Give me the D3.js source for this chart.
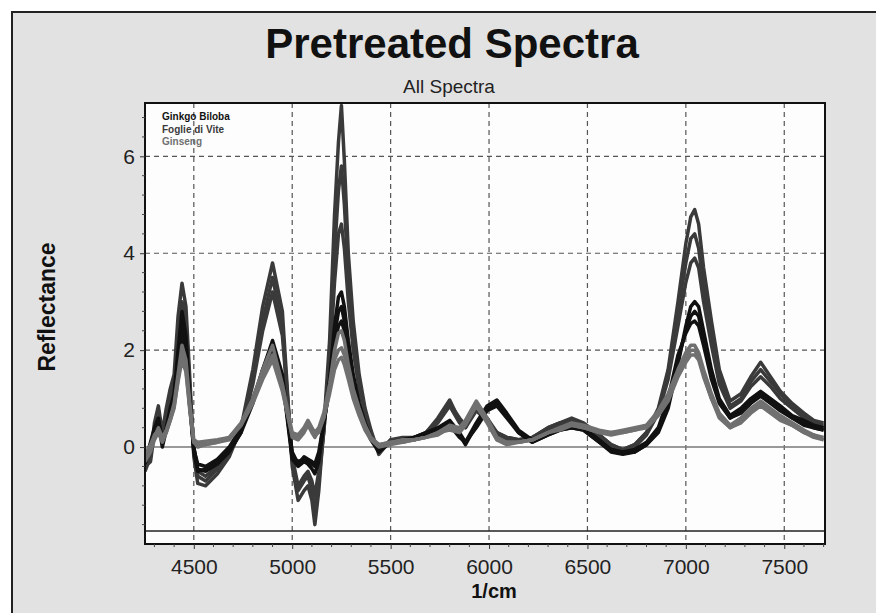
<!DOCTYPE html>
<html>
<head>
<meta charset="utf-8">
<script src="https://cdn.jsdelivr.net/npm/d3@7"></script>
<style>
  body { margin: 0; background: #fff; }
  svg { display: block; font-family: "Liberation Sans", Arial, sans-serif; }
</style>
</head>
<body>
<div id="chart"></div>
<script>
// wavenumbers (1/cm) the spectra are sampled at
const wavenumbers = [4252, 4280, 4300, 4320, 4340, 4360, 4380, 4400, 4420, 4440, 4460, 4480, 4500, 4520, 4560, 4620, 4680, 4740, 4800, 4850,
  4900, 4950, 5000, 5030, 5060, 5080, 5100, 5115, 5135, 5160, 5190, 5215, 5235, 5250, 5265, 5285, 5310, 5340, 5370, 5400,
  5440, 5500, 5560, 5620, 5680, 5740, 5800, 5850, 5880, 5935, 5990, 6040, 6090, 6150, 6220, 6300, 6360, 6420, 6480, 6560,
  6620, 6680, 6740, 6800, 6860, 6910, 6960, 7000, 7025, 7045, 7065, 7090, 7130, 7170, 7225, 7280, 7330, 7380, 7430, 7480,
  7540, 7600, 7650, 7700];

// Foglie di Vite spectra
const vite1 = [-0.5, -0.2, 0.5, 0.85, 0.3, 0.8, 1.2, 1.5, 2.7, 3.38, 2.9, 1.4, -0.2, -0.75, -0.8, -0.55, -0.2, 0.4, 1.6, 2.9,
  3.8, 2.8, -0.4, -1.1, -0.9, -0.8, -1.1, -1.6, -0.9, 0.4, 2.2, 4.8, 6.3, 7.05, 5.9, 4.0, 2.6, 1.5, 0.8, 0.35,
  -0.15, 0.15, 0.2, 0.2, 0.3, 0.6, 0.97, 0.55, 0.4, 0.85, 0.6, 0.3, 0.2, 0.15, 0.2, 0.4, 0.5, 0.6, 0.5, 0.25,
  0.05, -0.05, 0.05, 0.3, 0.8, 1.6, 3.0, 4.2, 4.75, 4.9, 4.6, 3.7, 2.6, 1.6, 0.95, 1.1, 1.45, 1.75, 1.45, 1.15,
  0.9, 0.7, 0.55, 0.5];
const vite2 = [-0.4, -0.3, 0.3, 0.6, 0.1, 0.6, 1.0, 1.3, 2.3, 3.0, 2.6, 1.2, -0.1, -0.6, -0.7, -0.45, -0.15, 0.35, 1.4, 2.6,
  3.5, 2.5, -0.3, -0.9, -0.7, -0.6, -0.9, -1.3, -0.7, 0.3, 1.9, 4.0, 5.3, 5.8, 5.0, 3.5, 2.3, 1.3, 0.7, 0.3,
  -0.1, 0.15, 0.15, 0.2, 0.3, 0.55, 0.9, 0.6, 0.45, 0.8, 0.55, 0.3, 0.2, 0.15, 0.2, 0.4, 0.5, 0.55, 0.45, 0.25,
  0.05, -0.05, 0.05, 0.3, 0.75, 1.5, 2.8, 3.8, 4.3, 4.4, 4.1, 3.3, 2.3, 1.45, 0.85, 1.0, 1.35, 1.6, 1.35, 1.1,
  0.85, 0.65, 0.5, 0.45];
const vite3 = [-0.3, -0.1, 0.2, 0.5, 0.2, 0.5, 0.9, 1.2, 2.0, 2.7, 2.3, 1.0, 0.0, -0.5, -0.6, -0.4, -0.1, 0.3, 1.3, 2.4,
  3.2, 2.3, -0.2, -0.8, -0.6, -0.5, -0.7, -1.0, -0.5, 0.3, 1.7, 3.4, 4.4, 4.6, 4.1, 3.0, 2.0, 1.2, 0.65, 0.25,
  -0.05, 0.1, 0.15, 0.2, 0.25, 0.5, 0.85, 0.5, 0.4, 0.75, 0.55, 0.25, 0.15, 0.1, 0.2, 0.35, 0.45, 0.55, 0.45, 0.2,
  0.0, -0.1, 0.0, 0.25, 0.7, 1.4, 2.5, 3.4, 3.8, 3.9, 3.7, 3.0, 2.1, 1.3, 0.8, 0.95, 1.25, 1.45, 1.25, 1.0,
  0.8, 0.6, 0.5, 0.4];

// Ginkgo Biloba spectra
const ginkgo1 = [-0.3, 0.1, 0.4, 0.6, 0.1, 0.4, 0.8, 1.1, 2.0, 2.8, 2.3, 1.0, 0.0, -0.45, -0.5, -0.35, -0.1, 0.3, 0.9, 1.6,
  2.2, 1.5, -0.2, -0.3, -0.25, -0.3, -0.35, -0.4, -0.2, 0.5, 1.4, 2.5, 3.1, 3.2, 2.9, 2.2, 1.5, 0.9, 0.5, 0.2,
  -0.1, 0.1, 0.15, 0.2, 0.3, 0.4, 0.55, 0.3, 0.1, 0.5, 0.85, 0.97, 0.7, 0.35, 0.15, 0.3, 0.4, 0.45, 0.4, 0.15,
  -0.05, -0.12, -0.1, 0.05, 0.3, 0.8, 1.7, 2.5, 2.9, 3.0, 2.9, 2.4, 1.6, 1.0, 0.65, 0.8, 1.0, 1.15, 1.0, 0.85,
  0.65, 0.55, 0.45, 0.4];
const ginkgo2 = [-0.35, 0.0, 0.3, 0.5, 0.0, 0.35, 0.7, 1.0, 1.8, 2.5, 2.1, 0.9, -0.1, -0.5, -0.45, -0.3, -0.05, 0.35, 0.95, 1.6,
  2.1, 1.4, -0.25, -0.4, -0.3, -0.35, -0.45, -0.55, -0.3, 0.45, 1.3, 2.3, 2.8, 2.9, 2.6, 2.0, 1.4, 0.85, 0.45, 0.15,
  -0.1, 0.1, 0.1, 0.2, 0.25, 0.35, 0.5, 0.25, 0.05, 0.45, 0.8, 0.9, 0.65, 0.3, 0.1, 0.25, 0.35, 0.4, 0.35, 0.1,
  -0.1, -0.15, -0.1, 0.05, 0.35, 0.9, 1.8, 2.4, 2.7, 2.8, 2.7, 2.2, 1.5, 0.95, 0.6, 0.75, 0.95, 1.1, 0.95, 0.8,
  0.6, 0.5, 0.4, 0.35];
const ginkgo3 = [-0.25, 0.05, 0.35, 0.55, 0.15, 0.35, 0.65, 0.95, 1.7, 2.3, 1.9, 0.8, -0.05, -0.35, -0.4, -0.25, 0.0, 0.4, 1.0, 1.55,
  2.0, 1.4, -0.1, -0.35, -0.2, -0.25, -0.3, -0.35, -0.1, 0.5, 1.2, 2.1, 2.5, 2.6, 2.4, 1.9, 1.3, 0.8, 0.4, 0.15,
  -0.05, 0.1, 0.15, 0.15, 0.25, 0.35, 0.45, 0.2, 0.1, 0.4, 0.75, 0.85, 0.6, 0.3, 0.1, 0.25, 0.35, 0.4, 0.35, 0.1,
  -0.05, -0.1, -0.05, 0.1, 0.4, 1.0, 1.9, 2.35, 2.55, 2.6, 2.5, 2.1, 1.4, 0.9, 0.6, 0.7, 0.9, 1.05, 0.9, 0.75,
  0.6, 0.45, 0.4, 0.35];

// Ginseng spectra
const ginseng1 = [-0.2, 0.0, 0.2, 0.4, 0.2, 0.35, 0.6, 0.9, 1.5, 2.1, 1.8, 0.9, 0.15, 0.1, 0.12, 0.15, 0.2, 0.5, 1.0, 1.6,
  2.1, 1.3, 0.3, 0.25, 0.4, 0.55, 0.4, 0.3, 0.4, 0.7, 1.3, 2.0, 2.35, 2.4, 2.2, 1.7, 1.2, 0.8, 0.45, 0.2,
  0.05, 0.1, 0.15, 0.15, 0.2, 0.3, 0.45, 0.4, 0.55, 0.95, 0.6, 0.2, 0.1, 0.1, 0.15, 0.3, 0.4, 0.5, 0.45, 0.35,
  0.3, 0.35, 0.4, 0.45, 0.75, 1.1, 1.6, 1.95, 2.1, 2.1, 1.95, 1.6, 1.1, 0.7, 0.45, 0.6, 0.8, 0.95, 0.8, 0.65,
  0.5, 0.35, 0.25, 0.2];
const ginseng2 = [-0.3, -0.1, 0.15, 0.3, 0.1, 0.3, 0.55, 0.8, 1.4, 1.9, 1.6, 0.8, 0.1, 0.05, 0.05, 0.1, 0.15, 0.45, 0.95, 1.45,
  1.9, 1.2, 0.2, 0.15, 0.3, 0.45, 0.3, 0.2, 0.35, 0.6, 1.2, 1.8, 2.0, 2.05, 1.9, 1.5, 1.1, 0.7, 0.4, 0.15,
  0.0, 0.05, 0.1, 0.15, 0.2, 0.25, 0.4, 0.35, 0.5, 0.9, 0.55, 0.15, 0.05, 0.1, 0.15, 0.3, 0.4, 0.45, 0.4, 0.3,
  0.3, 0.3, 0.35, 0.45, 0.7, 1.0, 1.5, 1.85, 2.0, 2.0, 1.85, 1.5, 1.0, 0.65, 0.4, 0.55, 0.75, 0.9, 0.75, 0.6,
  0.45, 0.3, 0.25, 0.15];
const ginseng3 = [-0.15, 0.05, 0.25, 0.35, 0.15, 0.3, 0.55, 0.85, 1.35, 1.8, 1.55, 0.75, 0.1, 0.0, 0.05, 0.1, 0.2, 0.45, 0.9, 1.4,
  1.8, 1.15, 0.25, 0.2, 0.35, 0.5, 0.35, 0.25, 0.3, 0.6, 1.1, 1.6, 1.8, 1.85, 1.7, 1.4, 1.0, 0.65, 0.35, 0.15,
  0.05, 0.1, 0.1, 0.15, 0.2, 0.3, 0.35, 0.3, 0.45, 0.85, 0.5, 0.15, 0.1, 0.1, 0.15, 0.3, 0.35, 0.45, 0.4, 0.3,
  0.25, 0.3, 0.35, 0.4, 0.65, 0.95, 1.45, 1.75, 1.9, 1.9, 1.8, 1.45, 1.0, 0.6, 0.4, 0.5, 0.7, 0.85, 0.7, 0.55,
  0.45, 0.3, 0.2, 0.15];

const groupNames = ["Ginkgo Biloba", "Foglie di Vite", "Ginseng"];
const groupColors = ["#111111", "#3a3a3a", "#707070"];
const xTicks = [4500, 5000, 5500, 6000, 6500, 7000, 7500];
const yTicks = [0, 2, 4, 6];
const lowerLimit = -1.73;

// draw order: vite first, ginseng on top
const series = [
  { group: 1, values: vite1 }, { group: 1, values: vite2 }, { group: 1, values: vite3 },
  { group: 0, values: ginkgo1 }, { group: 0, values: ginkgo2 }, { group: 0, values: ginkgo3 },
  { group: 2, values: ginseng1 }, { group: 2, values: ginseng2 }, { group: 2, values: ginseng3 }
];

const W = 876, H = 613;
const plot = { left: 145, right: 825, top: 103, bottom: 544 };

const svg = d3.select("#chart").append("svg")
  .attr("width", W)
  .attr("height", H);

// outer grey panel (runs off the right / bottom edge like the screenshot)
svg.append("rect")
  .attr("x", 12).attr("y", 12)
  .attr("width", W + 40).attr("height", H + 40)
  .attr("fill", "#e2e2e2")
  .attr("stroke", "#222").attr("stroke-width", 2);

const x = d3.scaleLinear().domain([4252, 7707]).range([plot.left, plot.right]);
const y = d3.scaleLinear().domain([-2, 7.1]).range([plot.bottom, plot.top]);

svg.append("rect")
  .attr("x", plot.left).attr("y", plot.top)
  .attr("width", plot.right - plot.left).attr("height", plot.bottom - plot.top)
  .attr("fill", "#fdfdfd");

svg.append("clipPath").attr("id", "clip")
  .append("rect")
  .attr("x", plot.left).attr("y", plot.top)
  .attr("width", plot.right - plot.left).attr("height", plot.bottom - plot.top);

// grid
const grid = svg.append("g")
  .attr("stroke", "#555").attr("stroke-width", 1.2).attr("stroke-dasharray", "5,4");
grid.selectAll(".vx").data(xTicks).join("line")
  .attr("x1", d => x(d)).attr("x2", d => x(d))
  .attr("y1", plot.top).attr("y2", plot.bottom);
grid.selectAll(".hy").data(yTicks.filter(d => d !== 0)).join("line")
  .attr("x1", plot.left).attr("x2", plot.right)
  .attr("y1", d => y(d)).attr("y2", d => y(d));

svg.append("line")
  .attr("x1", plot.left).attr("x2", plot.right)
  .attr("y1", y(0)).attr("y2", y(0))
  .attr("stroke", "#777").attr("stroke-width", 1.5);

svg.append("line")
  .attr("x1", plot.left).attr("x2", plot.right)
  .attr("y1", y(lowerLimit)).attr("y2", y(lowerLimit))
  .attr("stroke", "#222").attr("stroke-width", 1.5);

// spectra
const line = d3.line()
  .x((d, i) => x(wavenumbers[i]))
  .y(d => y(d));

svg.append("g").attr("clip-path", "url(#clip)")
  .selectAll("path")
  .data(series)
  .join("path")
  .attr("d", d => line(d.values))
  .attr("fill", "none")
  .attr("stroke", d => groupColors[d.group])
  .attr("stroke-width", 3.5)
  .attr("stroke-linejoin", "round");

// plot frame
svg.append("rect")
  .attr("x", plot.left).attr("y", plot.top)
  .attr("width", plot.right - plot.left).attr("height", plot.bottom - plot.top)
  .attr("fill", "none").attr("stroke", "#111").attr("stroke-width", 2);

// axes
const xAxis = d3.axisBottom(x).tickValues(xTicks).tickSize(5).tickFormat(d3.format("d"));
const gx = svg.append("g").attr("transform", `translate(0,${plot.bottom})`).call(xAxis);
gx.select(".domain").remove();
gx.selectAll("text").attr("font-size", 21).attr("dy", "1.05em").attr("fill", "#222")
  .attr("font-family", "Liberation Sans, Arial, sans-serif");
gx.selectAll("line").attr("stroke", "#333");

const xMinor = d3.range(4300, 7701, 100).filter(d => !xTicks.includes(d));
svg.append("g").selectAll("line").data(xMinor).join("line")
  .attr("x1", d => x(d)).attr("x2", d => x(d))
  .attr("y1", plot.bottom).attr("y2", plot.bottom + 3)
  .attr("stroke", "#444");

const yAxis = d3.axisLeft(y).tickValues(yTicks).tickSize(5).tickFormat(d3.format("d"));
const gy = svg.append("g").attr("transform", `translate(${plot.left},0)`).call(yAxis);
gy.select(".domain").remove();
gy.selectAll("text").attr("font-size", 21).attr("fill", "#222").attr("dx", "-0.1em")
  .attr("font-family", "Liberation Sans, Arial, sans-serif");
gy.selectAll("line").attr("stroke", "#333");

const yMinor = d3.range(-1.6, 7.0, 0.4).filter(d => !yTicks.some(t => Math.abs(t - d) < 1e-6));
svg.append("g").selectAll("line").data(yMinor).join("line")
  .attr("x1", plot.left - 3).attr("x2", plot.left)
  .attr("y1", d => y(d)).attr("y2", d => y(d))
  .attr("stroke", "#444");

// titles
svg.append("text")
  .attr("x", 452).attr("y", 58)
  .attr("text-anchor", "middle")
  .attr("font-size", 42).attr("font-weight", "bold").attr("fill", "#111")
  .text("Pretreated Spectra");

svg.append("text")
  .attr("x", 449).attr("y", 93)
  .attr("text-anchor", "middle")
  .attr("font-size", 19).attr("fill", "#222")
  .text("All Spectra");

svg.append("text")
  .attr("x", 494).attr("y", 598)
  .attr("text-anchor", "middle")
  .attr("font-size", 20).attr("font-weight", "bold").attr("fill", "#111")
  .text("1/cm");

svg.append("text")
  .attr("transform", "translate(55,307) rotate(-90)")
  .attr("text-anchor", "middle")
  .attr("font-size", 23).attr("font-weight", "bold").attr("fill", "#111")
  .text("Reflectance");

// legend
svg.append("g").selectAll("text")
  .data(groupNames)
  .join("text")
  .attr("x", 162)
  .attr("y", (d, i) => 120 + i * 12.5)
  .attr("font-size", 10).attr("font-weight", "bold")
  .attr("fill", (d, i) => groupColors[i])
  .text(d => d);
</script>
</body>
</html>
